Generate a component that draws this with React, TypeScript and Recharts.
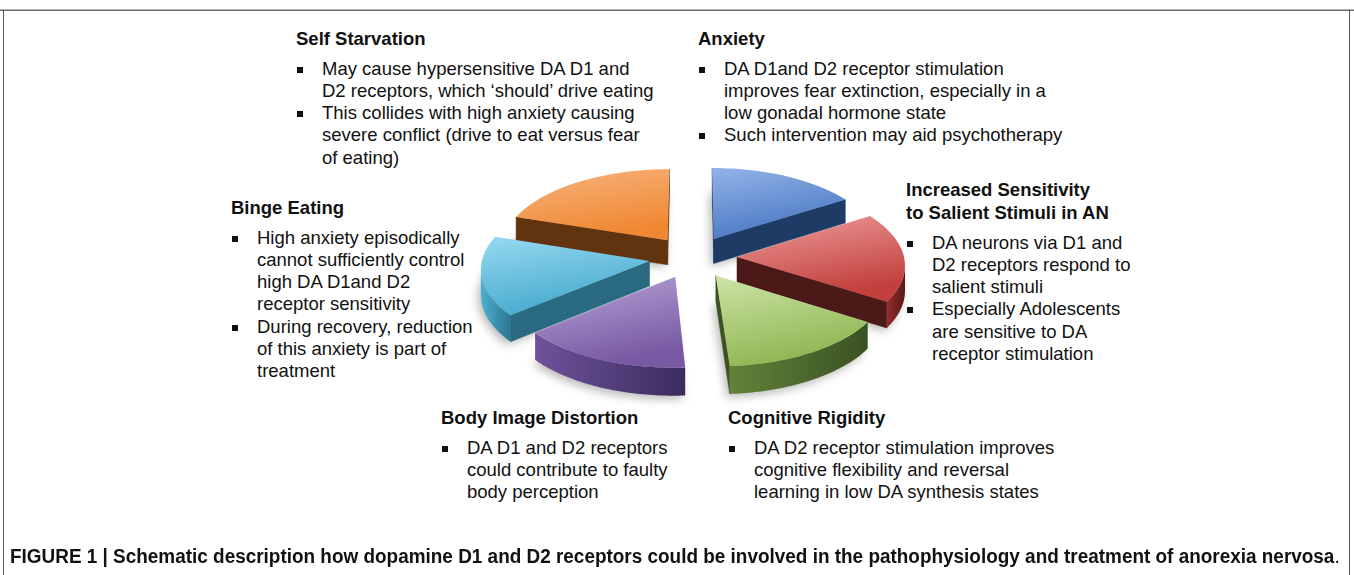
import React, { useLayoutEffect, useRef, useState } from 'react';
import { PieChart, Pie } from 'recharts';

// slices clockwise from 12 o'clock
const categories = [
  'Anxiety',
  'Increased Sensitivity to Salient Stimuli in AN',
  'Cognitive Rigidity',
  'Body Image Distortion',
  'Binge Eating',
  'Self Starvation',
];
const shares = [16, 18, 15, 15, 16, 20];

const topLight = ['#93B3E8', '#EE9E9C', '#CDE5A6', '#B9A6D9', '#97D9F0', '#F7B47F'];
const topDark = ['#4A79C4', '#C23F3C', '#8FB553', '#7859A3', '#45AACD', '#F08832'];
const sideDark = ['#1E3B66', '#4A1918', '#3D5222', '#3A2A5A', '#2A6A80', '#62330F'];
const rimLight = ['#3C6299', '#952F2D', '#62823A', '#6E529A', '#4DB1D1', '#8C4B18'];
const rimDark = ['#223F6B', '#581817', '#3A5221', '#3B2B5E', '#2C7690', '#5C300E'];

const titles = [
  ['Self Starvation'],
  ['Anxiety'],
  ['Increased Sensitivity', 'to Salient Stimuli in AN'],
  ['Binge Eating'],
  ['Body Image Distortion'],
  ['Cognitive Rigidity'],
];
const bullets = [
  [
    ['May cause hypersensitive DA D1 and', 'D2 receptors, which \u2018should\u2019 drive eating'],
    ['This collides with high anxiety causing', 'severe conflict (drive to eat versus fear', 'of eating)'],
  ],
  [
    ['DA D1and D2 receptor stimulation', 'improves fear extinction, especially in a', 'low gonadal hormone state'],
    ['Such intervention may aid psychotherapy'],
  ],
  [
    ['DA neurons via D1 and', 'D2 receptors respond to', 'salient stimuli'],
    ['Especially Adolescents', 'are sensitive to DA', 'receptor stimulation'],
  ],
  [
    ['High anxiety episodically', 'cannot sufficiently control', 'high DA D1and D2', 'receptor sensitivity'],
    ['During recovery, reduction', 'of this anxiety is part of', 'treatment'],
  ],
  [['DA D1 and D2 receptors', 'could contribute to faulty', 'body perception']],
  [['DA D2 receptor stimulation improves', 'cognitive flexibility and reversal', 'learning in low DA synthesis states']],
];
const caption =
  'FIGURE 1 | Schematic description how dopamine D1 and D2 receptors could be involved in the pathophysiology and treatment of anorexia nervosa';

const pieData = categories.map((name, i) => ({ name, value: shares[i], idx: i }));

// heading x, first heading centre y
const blockPos = [
  { x: 296, y: 39 },
  { x: 698, y: 39 },
  { x: 906, y: 190 },
  { x: 231, y: 208 },
  { x: 441, y: 418 },
  { x: 728, y: 418 },
];

const EXPLODE = 44;
const EYE = 1974;
const TILT = 0.478;
const THICK = 25;
const RAD = Math.PI / 180;

function geometry(p: any) {
  const lo = Math.min(p.startAngle, p.endAngle);
  const hi = Math.max(p.startAngle, p.endAngle);
  const ou = EXPLODE * Math.cos(p.midAngle * RAD);
  const ov = -EXPLODE * Math.sin(p.midAngle * RAD);
  const R = p.outerRadius;
  const project = (u: number, v: number, drop = 0) => {
    const s = EYE / (EYE - v);
    return [p.cx + u * s, p.cy + v * TILT * s + drop * s];
  };
  const rim = (a: number, drop = 0) =>
    project(ou + R * Math.cos(a * RAD), ov - R * Math.sin(a * RAD), drop);
  const angles: number[] = [];
  const n = Math.max(2, Math.ceil(hi - lo));
  for (let k = 0; k <= n; k++) angles.push(hi - ((hi - lo) * k) / n);
  // does this face look toward the eye in front of the pie?
  const facing = (pu: number, pv: number, na: number) =>
    -pu * Math.cos(na * RAD) + (EYE - pv) * -Math.sin(na * RAD) > 0;
  return { lo, hi, ou, ov, R, project, rim, angles, facing };
}

const toPath = (pts: number[][]) =>
  pts.map((q, k) => `${k ? 'L' : 'M'}${q[0].toFixed(1)},${q[1].toFixed(1)}`).join(' ') + ' Z';

const renderShadow = (props: any) => {
  const g = geometry(props);
  const pts = [g.project(g.ou, g.ov, THICK + 3), ...g.angles.map((a) => g.rim(a, THICK + 3))];
  return (
    <g>
      <defs>
        <filter id="pie-shadow" x="-20%" y="-20%" width="140%" height="140%">
          <feGaussianBlur stdDeviation="5" />
        </filter>
      </defs>
      <path d={toPath(pts)} transform="translate(-3,0)" fill="#000" fillOpacity={0.28} filter="url(#pie-shadow)" />
    </g>
  );
};

const renderWalls = (props: any) => {
  const g = geometry(props);
  const i = props.payload?.idx ?? props.index ?? 0;
  const tip = g.project(g.ou, g.ov);
  const tipB = g.project(g.ou, g.ov, THICK);
  const radial = [
    [g.lo, g.lo - 90],
    [g.hi, g.hi + 90],
  ]
    .filter(([, na]) => g.facing(g.ou, g.ov, na))
    .map(([a]) => toPath([tip, g.rim(a), g.rim(a, THICK), tipB]));
  const vis = g.angles.filter((a) => {
    const pu = g.ou + g.R * Math.cos(a * RAD);
    const pv = g.ov - g.R * Math.sin(a * RAD);
    return g.facing(pu, pv, a);
  });
  const gid = `rim-${i}`;
  let arc = '';
  if (vis.length > 1) {
    arc = toPath([...vis.map((a) => g.rim(a)), ...vis.slice().reverse().map((a) => g.rim(a, THICK))]);
  }
  return (
    <g>
      <defs>
        <linearGradient id={gid} x1="0" y1="0" x2="1" y2="0">
          <stop offset="0%" stopColor={rimLight[i]} />
          <stop offset="100%" stopColor={rimDark[i]} />
        </linearGradient>
      </defs>
      {radial.map((d, k) => (
        <path key={k} d={d} fill={sideDark[i]} stroke={sideDark[i]} strokeWidth={0.5} />
      ))}
      {arc && <path d={arc} fill={`url(#${gid})`} />}
    </g>
  );
};

const renderTop = (props: any) => {
  const g = geometry(props);
  const i = props.payload?.idx ?? props.index ?? 0;
  const pts = [g.project(g.ou, g.ov), ...g.angles.map((a) => g.rim(a))];
  const gid = `top-${i}`;
  return (
    <g>
      <defs>
        <linearGradient id={gid} x1="0" y1="0" x2="0.35" y2="1">
          <stop offset="0%" stopColor={topLight[i]} />
          <stop offset="100%" stopColor={topDark[i]} />
        </linearGradient>
      </defs>
      <path d={toPath(pts)} fill={`url(#${gid})`} />
    </g>
  );
};

const font = '"Liberation Sans", Arial, Helvetica, sans-serif';
const LINE = 22.3;
const HEAD_GAP = 29.5;

function Block({ b }: { b: number }) {
  const { x, y } = blockPos[b];
  const items: React.ReactNode[] = [];
  titles[b].forEach((t, k) => {
    items.push(
      <div key={`h${k}`} style={{ position: 'absolute', left: x, top: y + k * 23 - 11, lineHeight: '22px', fontWeight: 'bold', whiteSpace: 'nowrap' }}>
        {t}
      </div>
    );
  });
  let cy = y + (titles[b].length - 1) * 23 + HEAD_GAP;
  bullets[b].forEach((lines, j) => {
    lines.forEach((t, k) => {
      const c = cy;
      if (k === 0) {
        items.push(
          <div key={`s${j}`} style={{ position: 'absolute', left: x + 1, top: c - 2, width: 6, height: 6, background: '#111' }} />
        );
      }
      items.push(
        <div key={`l${j}-${k}`} style={{ position: 'absolute', left: x + 26, top: c - 11, lineHeight: '22px', whiteSpace: 'nowrap' }}>
          {t}
        </div>
      );
      cy += LINE;
    });
  });
  return <>{items}</>;
}

// caption is set in a condensed face in the figure: squeeze it to the same span
function Caption() {
  const ref = useRef<HTMLDivElement>(null);
  const [sx, setSx] = useState(0.95);
  useLayoutEffect(() => {
    if (ref.current) setSx(1330 / ref.current.offsetWidth);
  }, []);
  return (
    <div
      ref={ref}
      style={{
        position: 'absolute',
        left: 10,
        top: 545,
        lineHeight: '22px',
        whiteSpace: 'nowrap',
        fontWeight: 'bold',
        fontSize: 19.5,
        transform: `scaleX(${sx})`,
        transformOrigin: '0 0',
      }}
    >
      {caption}
      <span style={{ fontWeight: 'normal' }}>.</span>
    </div>
  );
}

const pieCommon = {
  data: pieData,
  dataKey: 'value',
  cx: 688,
  cy: 252,
  outerRadius: 167,
  startAngle: 90,
  endAngle: -270,
  stroke: 'none',
  isAnimationActive: false,
};

export default function App() {
  return (
    <div style={{ position: 'absolute', left: 0, top: 0, width: 1354, height: 575, background: '#fff', overflow: 'hidden', fontFamily: font, fontSize: 18.5, color: '#111' }}>
      <div style={{ position: 'absolute', left: 0, top: 9, width: 1354, height: 1, background: '#b5b5b5' }} />
      <div style={{ position: 'absolute', left: 0, top: 10, width: 1354, height: 1, background: '#6a6a6a' }} />
      <div style={{ position: 'absolute', left: 3, top: 10, width: 1, height: 565, background: '#555' }} />
      <div style={{ position: 'absolute', left: 1349, top: 10, width: 1, height: 565, background: '#555' }} />
      <div style={{ position: 'absolute', left: 0, top: 0 }}>
        <PieChart width={1354} height={575}>
          <Pie {...pieCommon} shape={renderShadow} isAnimationActive={false} />
          <Pie {...pieCommon} shape={renderWalls} isAnimationActive={false} />
          <Pie {...pieCommon} shape={renderTop} isAnimationActive={false} />
        </PieChart>
      </div>
      {blockPos.map((_, b) => (
        <Block key={b} b={b} />
      ))}
      <Caption />
    </div>
  );
}
